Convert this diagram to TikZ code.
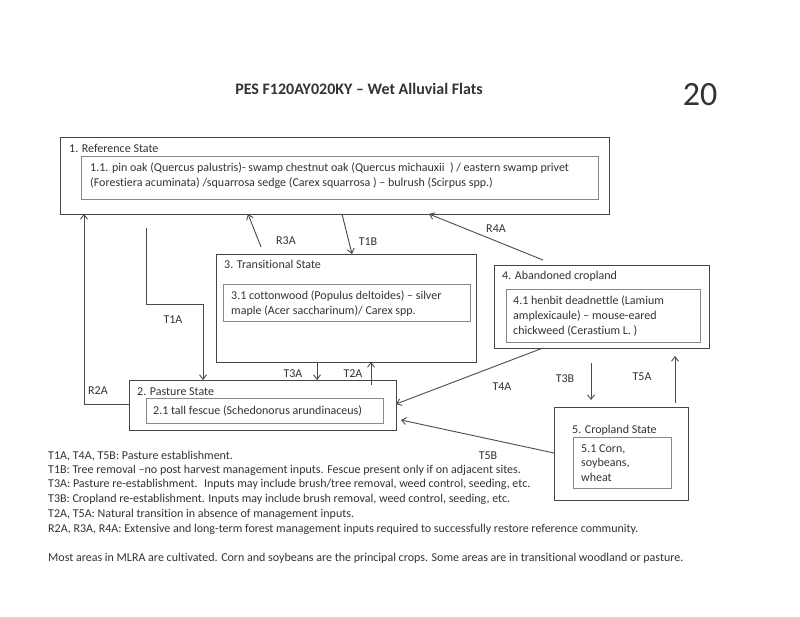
\documentclass[tikz,border=0pt]{standalone}
\usepackage{fontspec}
\setmainfont{Carlito}[Ligatures=NoCommon]
\usetikzlibrary{arrows.meta}
\definecolor{txtc}{HTML}{333333}
\definecolor{obc}{HTML}{454545}
\definecolor{ibc}{HTML}{888888}
\definecolor{lnc}{HTML}{4A4A4A}
\begin{document}
\begin{tikzpicture}[x=1pt,y=-1pt,
  obox/.style={draw=obc, line width=1.4pt, inner sep=0pt, anchor=north west},
  ibox/.style={draw=ibc, line width=1pt, inner sep=0pt, anchor=north west},
  ttl/.style={anchor=base west, inner sep=0pt, text=txtc, font=\fontsize{12}{14}\selectfont},
  body/.style={anchor=west, inner sep=0pt, align=left, text=txtc, font=\fontsize{12}{14.8}\selectfont},
  lab/.style={inner sep=0pt, text=txtc, font=\fontsize{12}{13}\selectfont},
  leg/.style={anchor=base west, inner sep=0pt, text=txtc, font=\fontsize{12}{13}\selectfont},
  conn/.style={draw=lnc, line width=0.9pt, -{Straight Barb[length=4.5pt,width=7pt]}},
  plain/.style={draw=lnc, line width=0.9pt}]
\useasboundingbox (0,0) rectangle (800,617);
\fill[white] (0,0) rectangle (800,617);

% title
\node[inner sep=0pt, text=txtc, font=\fontsize{16}{18}\selectfont\bfseries] (title) at (359,89) {PES F120AY020KY – Wet Alluvial Flats};
\node[inner sep=0pt, text=txtc, font=\fontsize{34}{38}\selectfont] (page) at (700,95) {20};

% 1. Reference state
\node[obox, minimum width=549pt, minimum height=77pt] (ref) at (60,137) {};
\node[ibox, minimum width=517pt, minimum height=43pt] (refi) at (81,156) {};
\node[ttl] (reft) at (69,153) {1. Reference State};
\node[body] (refb) at (90,175.5) {1.1. pin oak (Quercus palustris)- swamp chestnut oak (Quercus michauxii~~) / eastern swamp privet\\(Forestiera acuminata) /squarrosa sedge (Carex squarrosa ) – bulrush (Scirpus spp.)};

% 3. Transitional state
\node[obox, minimum width=260pt, minimum height=108pt] (tra) at (216,254) {};
\node[ibox, minimum width=247pt, minimum height=37pt] (trai) at (223,284) {};
\node[ttl] (trat) at (224,268.5) {3. Transitional State};
\node[body] (trab) at (231,303.5) {3.1 cottonwood (Populus deltoides) – silver\\maple (Acer saccharinum)/ Carex spp.};

% 4. Abandoned cropland
\node[obox, minimum width=215pt, minimum height=83pt] (aba) at (494,265) {};
\node[ibox, minimum width=194pt, minimum height=53pt] (abai) at (506,289) {};
\node[ttl] (abat) at (502,280) {4. Abandoned cropland};
\node[body] (abab) at (513,316) {4.1 henbit deadnettle (Lamium\\amplexicaule) – mouse-eared\\chickweed (Cerastium L. )};

% 2. Pasture state
\node[obox, minimum width=267pt, minimum height=50pt] (pas) at (129,380) {};
\node[ibox, minimum width=237pt, minimum height=25pt] (pasi) at (146,398) {};
\node[ttl] (past) at (137,395) {2. Pasture State};
\node[body] (pasb) at (153,410.5) {2.1 tall fescue (Schedonorus arundinaceus)};

% 5. Cropland state
\node[obox, minimum width=134pt, minimum height=93pt] (cro) at (554,407) {};
\node[ibox, minimum width=98pt, minimum height=51pt] (croi) at (573,437) {};
\node[ttl] (crot) at (572,433) {5. Cropland State};
\node[body] (crob) at (581,463) {5.1 Corn,\\soybeans,\\wheat};

% connector end points
\coordinate (r2a0) at (129,404);
\coordinate (r2a1) at (84,404);
\coordinate (r2a2) at (84,214);
\coordinate (t1a0) at (146,228);
\coordinate (t1a1) at (146,304);
\coordinate (t1a2) at (203,304);
\coordinate (t1a3) at (203,380);
\coordinate (r3a0) at (261,247);
\coordinate (r3a1) at (248,214);
\coordinate (t1b0) at (342,214);
\coordinate (t1b1) at (352,254);
\coordinate (r4a0) at (543,260);
\coordinate (r4a1) at (429,214);
\coordinate (t3a0) at (317,362);
\coordinate (t3a1) at (317,380);
\coordinate (t2a0) at (371,385);
\coordinate (t2a1) at (371,362);
\coordinate (t4a0) at (543,348);
\coordinate (t4a1) at (396,404);
\coordinate (t5b0) at (554,453);
\coordinate (t5b1) at (401,420);
\coordinate (t3b0) at (591,363);
\coordinate (t3b1) at (591,400);
\coordinate (t5a0) at (675,403);
\coordinate (t5a1) at (675,356);

\draw[conn] (r2a0) -- (r2a1) -- (r2a2);
\draw[conn] (t1a0) -- (t1a1) -- (t1a2) -- (t1a3);
\draw[conn] (r3a0) -- (r3a1);
\draw[conn] (t1b0) -- (t1b1);
\draw[conn] (r4a0) -- (r4a1);
\draw[conn] (t3a0) -- (t3a1);
\draw[conn] (t2a0) -- (t2a1);
\draw[conn] (t4a0) -- (t4a1);
\draw[conn] (t5b0) -- (t5b1);
\draw[conn] (t3b0) -- (t3b1);
\draw[conn] (t5a0) -- (t5a1);

% connector labels
\node[lab] (lr2a) at (98,391) {R2A};
\node[lab] (lt1a) at (173,319.5) {T1A};
\node[lab] (lr3a) at (286,241) {R3A};
\node[lab] (lt1b) at (368,242) {T1B};
\node[lab] (lr4a) at (496,228.5) {R4A};
\node[lab] (lt3a) at (293,373.5) {T3A};
\node[lab] (lt2a) at (353,373.5) {T2A};
\node[lab] (lt4a) at (502,387) {T4A};
\node[lab] (lt3b) at (565,378.5) {T3B};
\node[lab] (lt5a) at (642,377) {T5A};
\node[lab] (lt5b) at (488,455.5) {T5B};

% legend
\node[leg] (g1) at (48,459) {T1A, T4A, T5B: Pasture establishment.};
\node[leg] (g2) at (48,473.5) {T1B: Tree removal –no post harvest management inputs. Fescue present only if on adjacent sites.};
\node[leg] (g3) at (48,487.5) {T3A: Pasture re-establishment.~ Inputs may include brush/tree removal, weed control, seeding, etc.};
\node[leg] (g4) at (48,502.5) {T3B: Cropland re-establishment. Inputs may include brush removal, weed control, seeding, etc.};
\node[leg] (g5) at (48,517) {T2A, T5A: Natural transition in absence of management inputs.};
\node[leg] (g6) at (48,532) {R2A, R3A, R4A: Extensive and long-term forest management inputs required to successfully restore reference community.};
\node[leg] (g7) at (48,561) {Most areas in MLRA are cultivated. Corn and soybeans are the principal crops. Some areas are in transitional woodland or pasture.};
\end{tikzpicture}
\end{document}
